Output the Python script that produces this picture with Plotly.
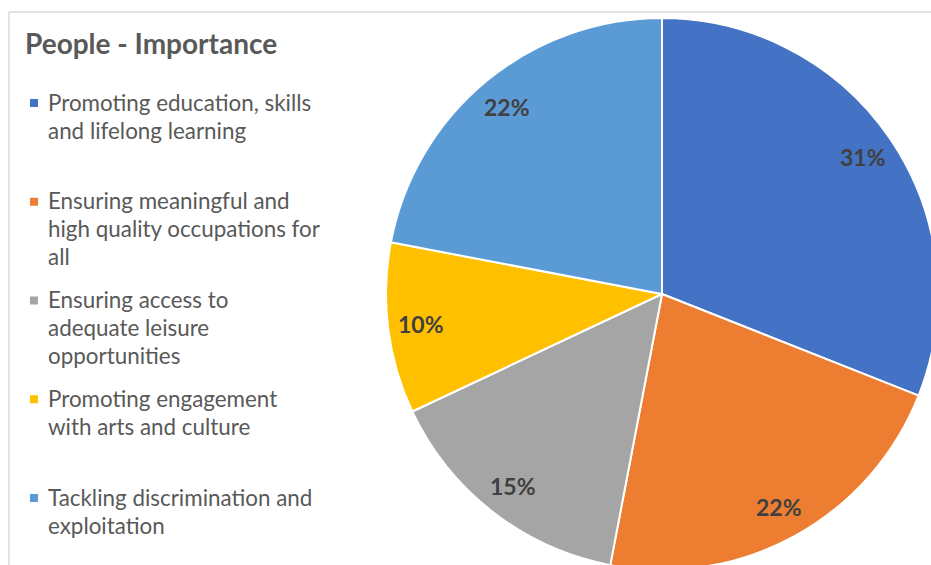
import math
import plotly.graph_objects as go

# ---- data -------------------------------------------------------------
categories = [
    "Promoting education, skills and lifelong learning",
    "Ensuring meaningful and high quality occupations for all",
    "Ensuring access to adequate leisure opportunities",
    "Promoting engagement with arts and culture",
    "Tackling discrimination and exploitation",
]
legend_lines = [
    ["Promoting education, skills", "and lifelong learning"],
    ["Ensuring meaningful and", "high quality occupations for", "all"],
    ["Ensuring access to", "adequate leisure", "opportunities"],
    ["Promoting engagement", "with arts and culture"],
    ["Tackling discrimination and", "exploitation"],
]
shares = [31, 22, 15, 10, 22]
colors = ["#4472C4", "#ED7D31", "#A5A5A5", "#FFC000", "#5B9BD5"]
title_text = "People - Importance"

# ---- layout geometry (pixels) ----------------------------------------
W, H = 940, 575
CX, CY, R = 662, 294, 276          # pie centre and radius
LABEL_R = 0.88                      # radial position of the % labels
FONT = "Lato, Carlito, Calibri, sans-serif"
TEXT_GREY = "#595959"
LABEL_GREY = "#404040"

LEG_X_MARK = 30
LEG_X_TEXT = 46
LEG_Y0 = 102
LEG_ITEM_STEP = 98.75
LEG_LINE_STEP = 28
SWATCH = 8


def px(x):
    return x / W


def py(y):
    return 1 - y / H


fig = go.Figure()

fig.add_trace(go.Pie(
    labels=categories,
    values=shares,
    sort=False,
    direction="clockwise",
    rotation=0,
    marker=dict(colors=colors, line=dict(color="white", width=2)),
    textinfo="none",
    hoverinfo="label+percent",
    showlegend=False,
    domain=dict(x=[px(CX - R), px(CX + R)], y=[py(CY + R), py(CY - R)]),
))

annotations = []
shapes = []

# percentage labels placed along each slice's mid-angle
total = sum(shares)
cum = 0
for v in shares:
    mid = (cum + v / 2) / total
    theta = 2 * math.pi * mid
    lx = CX + LABEL_R * R * math.sin(theta)
    ly = CY - LABEL_R * R * math.cos(theta)
    annotations.append(dict(
        x=px(lx), y=py(ly), xref="paper", yref="paper",
        text=f"{round(100 * v / total)}%", showarrow=False,
        xanchor="center", yanchor="middle",
        font=dict(family=FONT, size=23, color=LABEL_GREY, weight="bold"),
    ))
    cum += v

# legend title
annotations.append(dict(
    x=px(23), y=py(43), xref="paper", yref="paper",
    text=f"<b>{title_text}</b>", showarrow=False,
    xanchor="left", yanchor="middle",
    font=dict(family=FONT, size=28, color=TEXT_GREY),
))

# legend entries: square swatch + wrapped text
for i, (lines, col) in enumerate(zip(legend_lines, colors)):
    y_first = LEG_Y0 + i * LEG_ITEM_STEP
    shapes.append(dict(
        type="rect", xref="paper", yref="paper",
        x0=px(LEG_X_MARK), x1=px(LEG_X_MARK + SWATCH),
        y0=py(y_first + 1 - SWATCH / 2), y1=py(y_first + 1 + SWATCH / 2),
        fillcolor=col, line=dict(width=0),
    ))
    for j, line in enumerate(lines):
        annotations.append(dict(
            x=px(LEG_X_TEXT), y=py(y_first + j * LEG_LINE_STEP),
            xref="paper", yref="paper",
            text=line, showarrow=False,
            xanchor="left", yanchor="middle",
            font=dict(family=FONT, size=22.4, color=TEXT_GREY),
        ))

# chart-area frame (top and left edges visible)
shapes.append(dict(
    type="line", xref="paper", yref="paper",
    x0=px(9), x1=1, y0=py(12), y1=py(12),
    line=dict(color="#D9D9D9", width=1.5), layer="below",
))
shapes.append(dict(
    type="line", xref="paper", yref="paper",
    x0=px(9), x1=px(9), y0=py(12), y1=0,
    line=dict(color="#D9D9D9", width=1.5), layer="below",
))

fig.update_layout(
    width=W, height=H,
    margin=dict(l=0, r=0, t=0, b=0),
    paper_bgcolor="white",
    plot_bgcolor="white",
    annotations=annotations,
    shapes=shapes,
    showlegend=False,
)

fig.write_html("out.html", post_script="document.body.style.overflow='hidden';")
